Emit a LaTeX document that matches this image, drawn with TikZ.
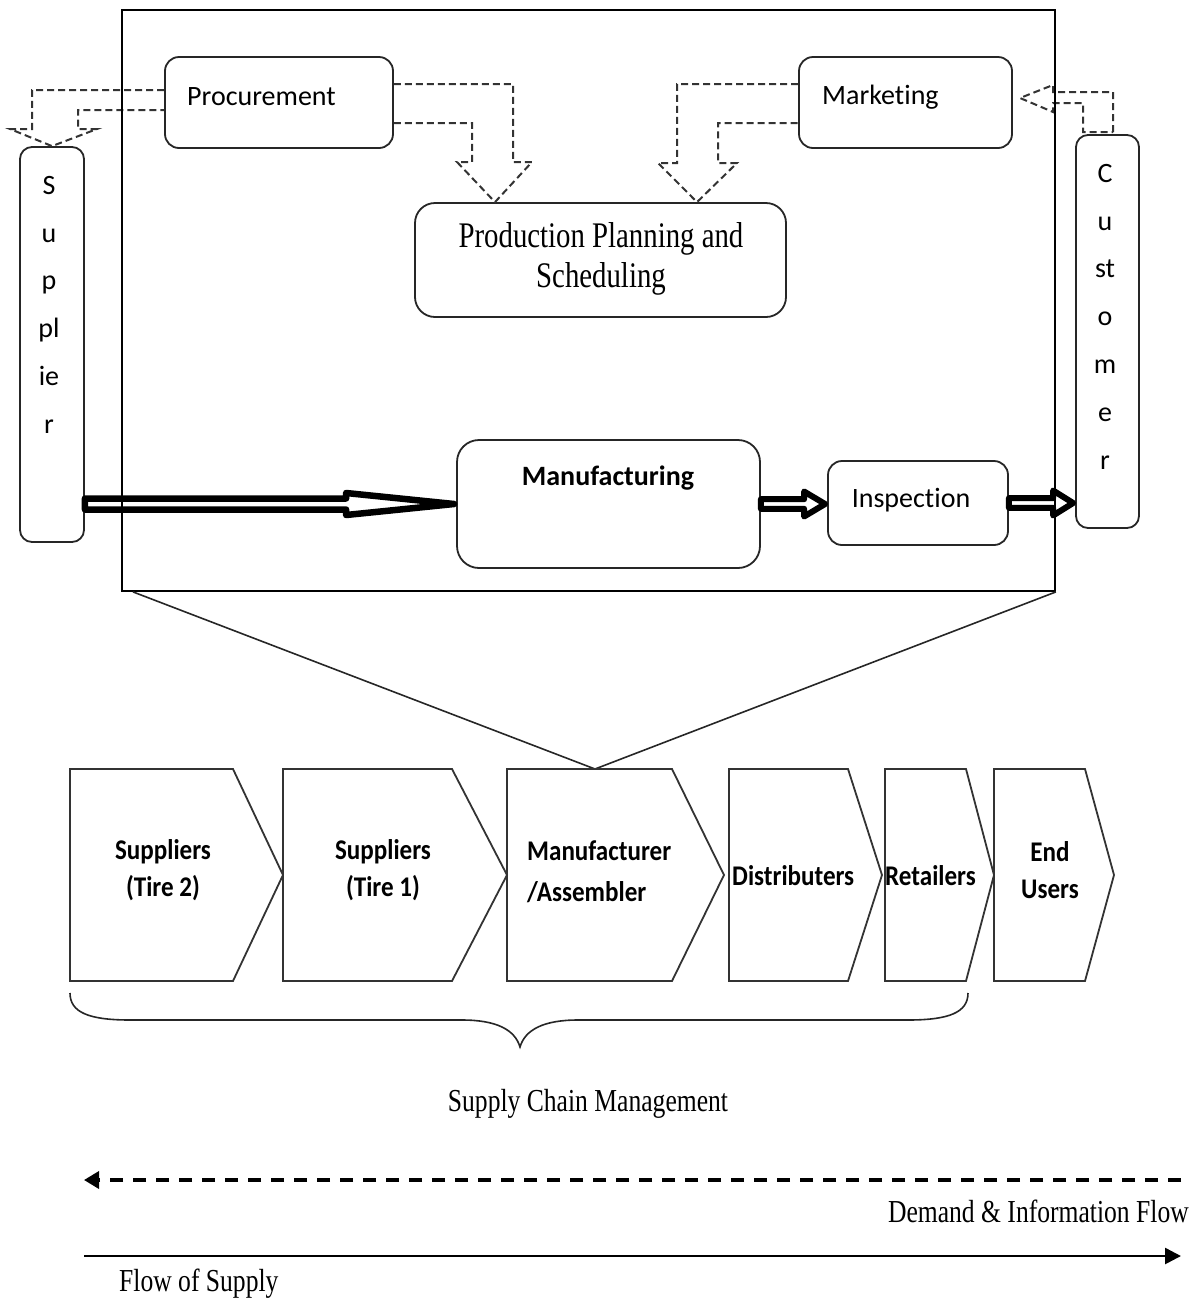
\documentclass[tikz,border=0pt]{standalone}
\usepackage{fontspec}
\setmainfont{Carlito}[Ligatures=NoCommon]
\newfontfamily\serif{Liberation Serif}[FakeStretch=0.8]
\newfontfamily\chevfont{Carlito}[FakeStretch=0.88, Ligatures=NoCommon]
\usetikzlibrary{calc,arrows.meta}

\tikzset{
  rbox/.style={draw=black!85, line width=1.8pt, rounded corners=14pt, fill=white, inner sep=0pt},
  lbl/.style={inner sep=0pt, font=\fontsize{28}{34}\selectfont},
  vlbl/.style={inner sep=0pt, align=center, font=\fontsize{28}{47.8}\selectfont},
  chev/.style={draw=black!80, line width=1.8pt, line join=miter},
  clbl/.style={inner sep=0pt, font=\chevfont\bfseries\fontsize{28.5}{37}\selectfont},
  flowarr/.style={draw=black!80, line width=2pt, dash pattern=on 7pt off 4pt},
  fatline/.style={draw=black, fill=white, line join=round, line width=#1},
  seriflbl/.style={inner sep=0pt, font=\serif\fontsize{32}{38}\selectfont},
}

% thick outlined block arrow: start, target, stroke width, half shaft, head length, half head
\newcommand\fatarrow[6]{%
  \draw[fatline=#3] let \p1=(#1), \p2=(#2) in
    (\x1,\y1+#4) -- (\x2-#5,\y1+#4) -- (\x2-#5,\y1+#6) -- (\x2-2pt,\y1)
    -- (\x2-#5,\y1-#6) -- (\x2-#5,\y1-#4) -- (\x1,\y1-#4) -- cycle;}

% one stage of the supply chain: left edge, shoulder, point
\newcommand\chevstage[3]{%
  \draw[chev] (#1,769) -- (#2,769) -- (#3,875) -- (#2,981) -- (#1,981) -- cycle;}

\begin{document}
\begin{tikzpicture}[x=1pt,y=-1pt]
\useasboundingbox (0,0) rectangle (1197,1302);

% ---- boxes of the manufacturing firm ----
\node[rbox, minimum width=228, minimum height=91] (proc) at (279,102.5) {};
\node[lbl, anchor=west] (proct) at (187,97) {Procurement};
\node[rbox, minimum width=213, minimum height=91] (mkt) at (905.5,102.5) {};
\node[lbl, anchor=west] (mktt) at (822,97) {Marketing};
\node[rbox, rounded corners=20pt, minimum width=371, minimum height=114] (pp) at (600.5,260) {};
\node[inner sep=0pt, align=center, font=\serif\fontsize{36}{40}\selectfont] (ppt) at (601,259)
  {Production Planning and\\Scheduling};
\node[rbox, rounded corners=12pt, minimum width=64, minimum height=395] (supp) at (52,344.5) {};
\node[vlbl, anchor=north] (suppt) at (49,176) {S\\u\\p\\pl\\ie\\r};
\node[rbox, rounded corners=12pt, minimum width=63, minimum height=393] (cust) at (1107.5,331.5) {};
\node[vlbl, anchor=north] (custt) at (1105,164) {C\\u\\st\\o\\m\\e\\r};
\node[rbox, rounded corners=22pt, minimum width=303, minimum height=128] (manu) at (608.5,504) {};
\node[lbl, font=\bfseries\fontsize{28}{34}\selectfont] (manut) at (608,478) {Manufacturing};
\node[rbox, minimum width=180, minimum height=84] (insp) at (918,503) {};
\node[lbl] (inspt) at (911,500) {Inspection};

% ---- information flows (dashed block arrows) ----
\draw[flowarr] (proc.west |- 0,90) -- (32,90) -- (32,129) -- (10,129) -- (supp.north)
  -- (97,129) -- (78,129) -- (78,110) -- (proc.west |- 0,110);
\draw[flowarr] (proc.east |- 0,84) -- (513,84) -- (513,162) -- (532,162) -- (495,0 |- pp.north)
  -- (457,162) -- (472,162) -- (472,123) -- (proc.east |- 0,123);
\draw[flowarr] (mkt.west |- 0,84) -- (677,84) -- (677,163) -- (658,163) -- (697,0 |- pp.north)
  -- (737,163) -- (718,163) -- (718,123) -- (mkt.west |- 0,123);
\draw[flowarr] (1113,132) -- (1113,92) -- (1053,92) -- (1053,85) -- (1020,98)
  -- (1053,112) -- (1053,103) -- (1083,103) -- (1083,132) -- cycle;

% ---- material flow (solid block arrows) ----
\fatarrow{supp.east |- manu.west}{manu.west}{6.5pt}{5.5pt}{110pt}{11pt}
\fatarrow{manu.east}{insp.west}{6pt}{4.8pt}{23pt}{12.5pt}
\fatarrow{insp.east}{cust.west |- insp.east}{6pt}{4.8pt}{22pt}{12.5pt}

% ---- frame around the firm and its link to the chain ----
\node[draw=black, line width=1.8pt, minimum width=933, minimum height=581, inner sep=0pt] (frame) at (588.5,300.5) {};
\coordinate (apex) at (595,769);
\draw[line width=1.6pt, draw=black!85] (frame.south west -| 133,0) -- (apex) -- (frame.south east);

% ---- supply chain stages ----
\chevstage{70}{233}{283}
\chevstage{283}{452}{507}
\chevstage{507}{672}{724}
\chevstage{729}{848}{882}
\chevstage{885}{966}{994}
\chevstage{994}{1085}{1114}
\node[clbl, align=center] (s2) at (163,870) {Suppliers\\(Tire 2)};
\node[clbl, align=center] (s1) at (383,870) {Suppliers\\(Tire 1)};
\node[clbl, align=left, anchor=west, font=\chevfont\bfseries\fontsize{28.5}{41}\selectfont] (ma) at (527,872) {Manufacturer\\/Assembler};
\node[clbl, anchor=west] (di) at (732,876) {Distributers};
\node[clbl, anchor=west] (re) at (885,876) {Retailers};
\node[clbl, align=center] (eu) at (1050,870) {End\\Users};

% ---- brace under the chain ----
\draw[line width=1.6pt, draw=black!85] (70,993) .. controls (70,1012) and (88,1020) .. (130,1020)
  -- (462,1020) .. controls (497,1020) and (515,1030) .. (520,1047)
  .. controls (525,1030) and (543,1020) .. (578,1020) -- (908,1020)
  .. controls (950,1020) and (968,1012) .. (968,993);
\node[seriflbl] (scm) at (588,1104) {Supply Chain Management};

% ---- legend ----
\coordinate (dL) at (84,1180);
\coordinate (dR) at (1181,1180);
\coordinate (sL) at (84,1256);
\coordinate (sR) at (1181,1256);
\draw[line width=3.5pt, dash pattern=on 13pt off 10pt, -{Triangle[length=15pt,width=17pt]}] (dR) -- (dL);
\draw[line width=2.6pt, -{Triangle[length=16pt,width=16pt]}] (sL) -- (sR);
\node[seriflbl, anchor=east] (dif) at (1189,1211) {Demand \& Information Flow};
\node[seriflbl, anchor=west] (fos) at (119,1284) {Flow of Supply};
\end{tikzpicture}
\end{document}
